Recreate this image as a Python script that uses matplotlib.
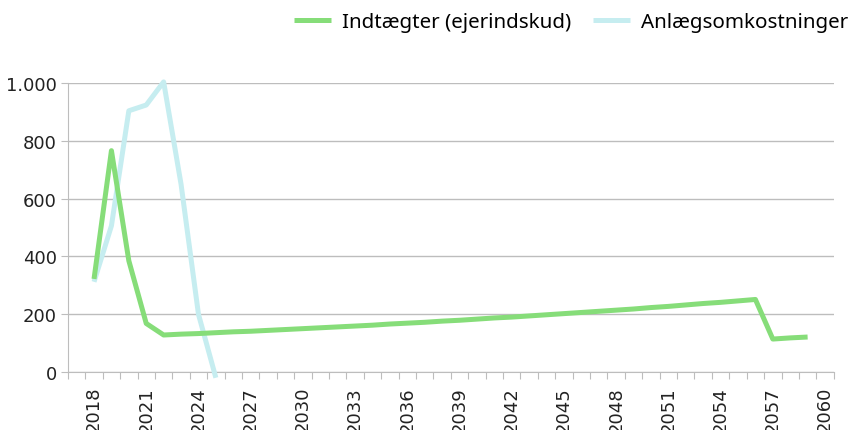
import numpy as np
import matplotlib.pyplot as plt
import matplotlib.ticker as mtick

plt.rcParams['font.family'] = ['Noto Sans', 'DejaVu Sans']

# year axis runs 2017-2060 (first category empty)
years_axis = list(range(2017, 2061))
label_years = list(range(2018, 2061, 3))

# Indtægter (ejerindskud), 2018-2059
income_years = list(range(2018, 2060))
income = [322, 766, 385, 168, 128, 131, 133, 136, 139, 141, 144, 147, 150,
          153, 156, 159, 162, 166, 169, 172, 176, 179, 183, 187, 190, 194,
          198, 202, 206, 210, 214, 218, 223, 227, 232, 237, 241, 246, 251,
          114, 118, 121]

# Anlægsomkostninger, 2018-2025
cost_years = list(range(2018, 2026))
cost = [312, 506, 904, 924, 1004, 650, 200, -20]

green = "#86dd79"
cyan = "#c6edf0"
grid_col = "#bdbdbd"

fig = plt.figure(figsize=(8.49, 4.31), dpi=100)
ax = fig.add_axes([0.080, 0.1346, 0.902, 0.6704])

ax.grid(axis="y", color=grid_col, linewidth=1.0)
ax.set_axisbelow(True)

ax.plot(cost_years, cost, color=cyan, lw=3.6, label="Anlægsomkostninger",
        clip_on=False, solid_capstyle="butt", zorder=3)
ax.plot(income_years, income, color=green, lw=3.6, label="Indtægter (ejerindskud)",
        clip_on=False, solid_capstyle="butt", zorder=4)

ax.set_xlim(years_axis[0] - 0.5, years_axis[-1] + 0.5)
ax.set_ylim(0, 1000)
ax.set_yticks(range(0, 1001, 200))
ax.yaxis.set_major_formatter(mtick.FuncFormatter(lambda v, p: f"{int(v):,}".replace(",", ".")))

# tick marks at category boundaries, labels at category centres
ax.set_xticks(np.arange(years_axis[0] - 0.5, years_axis[-1] + 1, 1))
ax.set_xticklabels([])
ax.set_xticks(label_years, minor=True)
ax.set_xticklabels([str(y) for y in label_years], minor=True, rotation=90,
                   family="DejaVu Sans")
ax.tick_params(axis="x", which="major", length=5, color=grid_col)
ax.tick_params(axis="x", which="minor", length=0, pad=10, labelsize=13, labelcolor="#222222")
ax.tick_params(axis="y", length=5, color=grid_col, labelsize=13, labelcolor="#222222", pad=3)
for t in ax.get_yticklabels():
    t.set_family("DejaVu Sans")

for s in ["top", "right"]:
    ax.spines[s].set_visible(False)
for s in ["left", "bottom"]:
    ax.spines[s].set_color(grid_col)

h, l = ax.get_legend_handles_labels()
fig.legend(h[::-1], l[::-1], loc="upper right", bbox_to_anchor=(848 / 849, 1 - 13 / 431),
           ncol=2, frameon=False, fontsize=14.8, handlelength=1.8, columnspacing=1.07,
           handletextpad=0.53, borderaxespad=0, borderpad=0)

fig.savefig("out.png", dpi=100)
